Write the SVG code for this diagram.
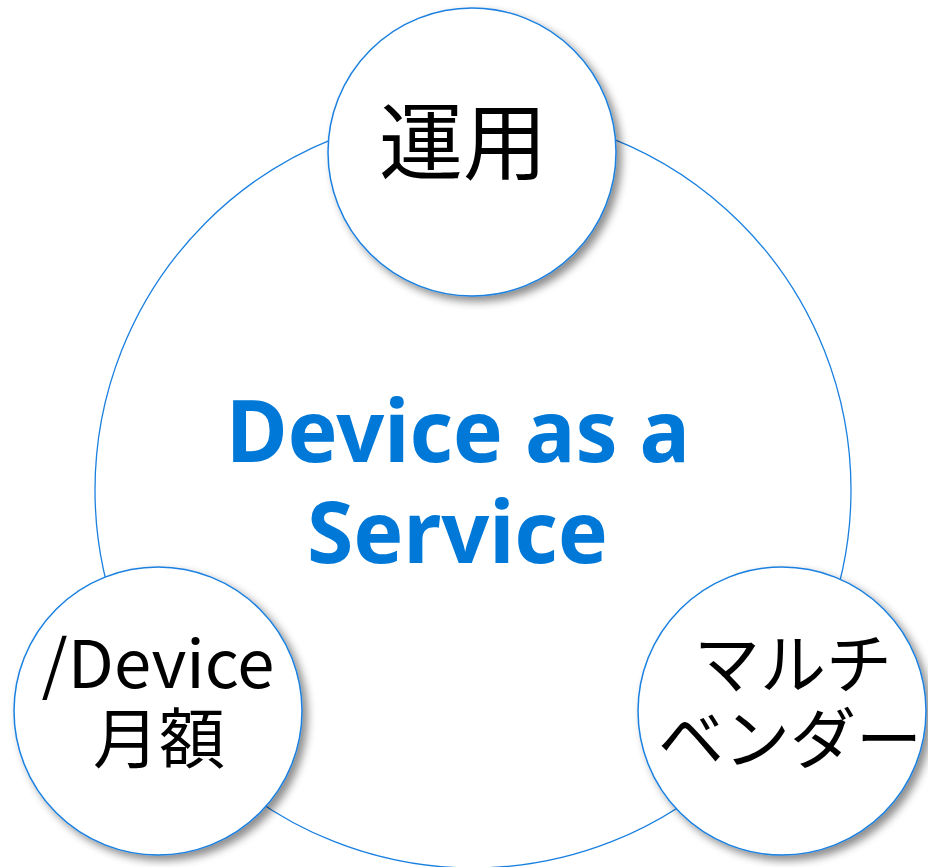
<svg xmlns="http://www.w3.org/2000/svg" width="928" height="867" viewBox="0 0 928 867">
<defs>
<filter id="sh" x="-20%" y="-20%" width="150%" height="150%">
<feDropShadow dx="5" dy="5" stdDeviation="4" flood-color="#000" flood-opacity="0.45"/>
</filter>
</defs>
<style>
.ring{fill:#fff;stroke:#1a80e0;stroke-width:1.5}
.big{fill:none;stroke:#1a80e0;stroke-width:1.3}
.lbl{font-family:"Noto Sans CJK JP","Noto Sans",sans-serif;font-size:66px;fill:#000;text-anchor:middle}
.title{font-family:"Noto Sans","Noto Sans CJK JP",sans-serif;font-weight:bold;font-size:86px;fill:#0078d7;text-anchor:middle}
</style>
<rect width="928" height="867" fill="#fff"/>
<g id="connectors"></g>
<g id="daas">
<circle class="big" cx="473" cy="490" r="378"/>
<text class="title" x="458" y="462" textLength="464" lengthAdjust="spacingAndGlyphs">Device as a</text>
<text class="title" x="457.5" y="563" textLength="301" lengthAdjust="spacingAndGlyphs">Service</text>
</g>
<g id="unyou">
<circle class="ring" cx="472" cy="152" r="144" filter="url(#sh)"/>
<text class="lbl" x="463" y="173" style="font-size:84px">運用</text>
</g>
<g id="getsugaku">
<circle class="ring" cx="158" cy="711" r="144" filter="url(#sh)"/>
<text class="lbl" x="158" y="688" textLength="233" lengthAdjust="spacingAndGlyphs">/Device</text>
<text class="lbl" x="159" y="763">月額</text>
</g>
<g id="multivendor">
<circle class="ring" cx="782" cy="711" r="144" filter="url(#sh)"/>
<text class="lbl" x="793" y="688">マルチ</text>
<text class="lbl" x="790" y="763">ベンダー</text>
</g>
</svg>
